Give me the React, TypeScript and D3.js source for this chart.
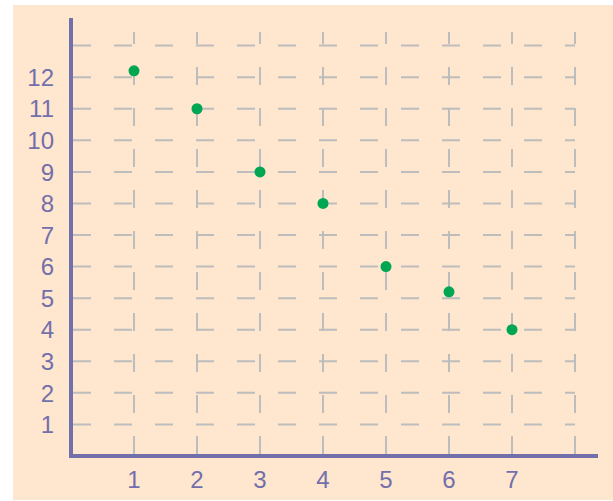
import React from "react";
import * as d3 from "d3";

const xValues = [1, 2, 3, 4, 5, 6, 7];
const yValues = [12.2, 11, 9, 8, 6, 5.2, 4];
const xTicks = [1, 2, 3, 4, 5, 6, 7];
const yTicks = [1, 2, 3, 4, 5, 6, 7, 8, 9, 10, 11, 12];
const hGrid = [1, 2, 3, 4, 5, 6, 7, 8, 9, 10, 11, 12, 13];
const vGrid = [1, 2, 3, 4, 5, 6, 7, 8];

const W = 613;
const H = 501;
const AXIS = "#726fab";
const GRID = "#bdbdbd";
const BG = "#fee6cf";
const DOT = "#00a651";
const FONT = "'Liberation Sans', Arial, sans-serif";

export default function App() {
  const x = d3.scaleLinear().domain([0, 8]).range([71, 575]);
  const y = d3.scaleLinear().domain([0, 13]).range([456, 45.6]);

  return (
    <div style={{ position: "absolute", left: 0, top: 0 }}>
      <svg width={W} height={H} style={{ display: "block" }}>
        <rect x={13} y={5} width={W - 13} height={495} fill={BG} />
        {hGrid.map((v) => (
          <line
            key={"h" + v}
            x1={x(0) + 2}
            x2={x(8)}
            y1={y(v)}
            y2={y(v)}
            stroke={GRID}
            strokeWidth={2}
            strokeDasharray="18 23"
          />
        ))}
        {vGrid.map((v) => (
          <line
            key={"v" + v}
            x1={x(v)}
            x2={x(v)}
            y1={y(0) - 2}
            y2={32}
            stroke={GRID}
            strokeWidth={2}
            strokeDasharray="18 23"
          />
        ))}
        <line x1={x(0)} x2={x(0)} y1={18} y2={458} stroke={AXIS} strokeWidth={4} />
        <line x1={69} x2={598} y1={y(0)} y2={y(0)} stroke={AXIS} strokeWidth={4} />
        {yTicks.map((v) => (
          <text
            key={"yt" + v}
            x={54}
            y={y(v)}
            dy="0.36em"
            textAnchor="end"
            fill={AXIS}
            fontFamily={FONT}
            fontSize={24}
          >
            {v}
          </text>
        ))}
        {xTicks.map((v) => (
          <text
            key={"xt" + v}
            x={x(v)}
            y={488}
            textAnchor="middle"
            fill={AXIS}
            fontFamily={FONT}
            fontSize={24}
          >
            {v}
          </text>
        ))}
        {xValues.map((xv, i) => (
          <circle key={"p" + i} cx={x(xv)} cy={y(yValues[i])} r={5.5} fill={DOT} />
        ))}
      </svg>
    </div>
  );
}
